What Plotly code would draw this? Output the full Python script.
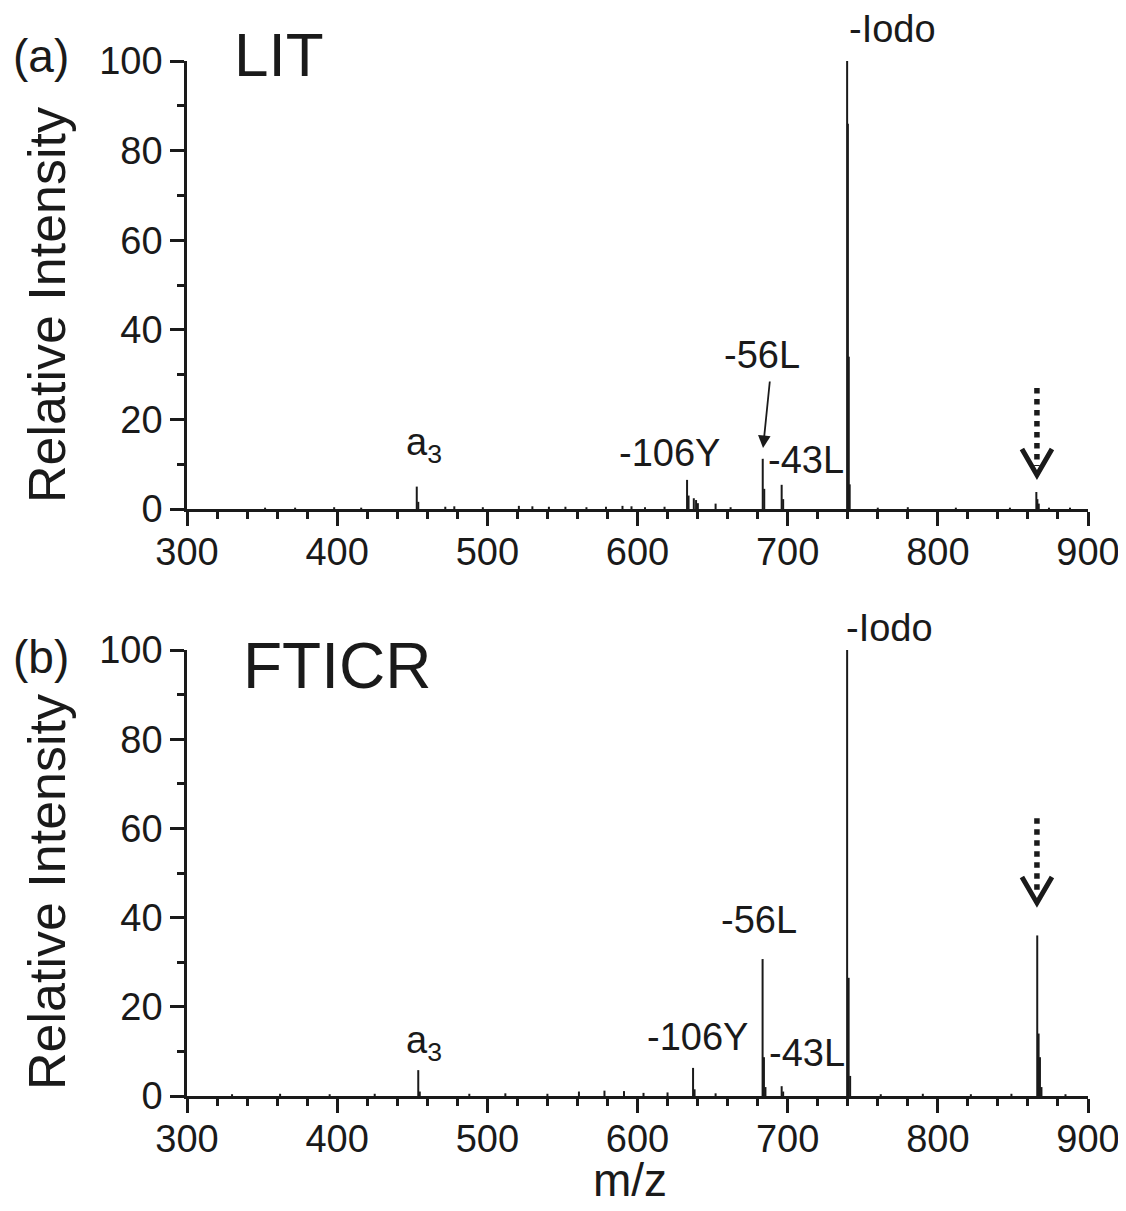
import plotly.graph_objects as go

# page body adds an 8 px margin on the top/left
OFF = 8
W, H = 1126 - OFF, 1211 - OFF

# ---------------- data ----------------
# (a) LIT spectrum: m/z and relative intensity of the sticks
lit_mz = [352, 372, 398, 416, 453.0, 454.0, 472, 478, 497, 521, 530, 541, 552, 566,
          579, 590, 596, 605, 618, 633.0, 634.0, 637.5, 639.0, 640.2, 652.0, 662,
          683.4, 684.4, 696.0, 697.0, 739.6, 740.1, 740.7, 741.3, 760, 780, 812,
          848, 865.6, 866.3, 867.2, 874, 888]
lit_int = [0.3, 0.3, 0.4, 0.3, 5.0, 1.6, 0.5, 0.6, 0.4, 0.7, 0.6, 0.5, 0.5, 0.4,
           0.5, 0.7, 0.6, 0.4, 0.5, 6.5, 3.0, 2.4, 2.0, 1.3, 1.2, 0.4,
           11.2, 4.5, 5.4, 2.2, 100, 86, 34, 5.5, 0.3, 0.4, 0.3,
           0.3, 3.8, 2.2, 1.2, 0.3, 0.3]

# (b) FTICR spectrum
ft_mz = [330, 362, 395, 425, 454.0, 455.0, 488, 512, 540, 561, 578, 591, 604, 620,
         637.0, 638.0, 652, 683.3, 684.2, 685.2, 696.0, 697.0, 739.6, 740.6, 741.6,
         762, 790, 822, 849, 866.2, 867.1, 868.0, 869.0, 885]
ft_int = [0.4, 0.5, 0.4, 0.5, 5.8, 1.0, 0.5, 0.6, 0.5, 1.0, 1.2, 1.1, 0.7, 0.8,
          6.3, 1.5, 0.6, 30.7, 8.7, 2.0, 2.2, 1.0, 100, 26.5, 4.5,
          0.4, 0.5, 0.4, 0.5, 36.0, 14.0, 8.7, 2.0, 0.4]

x_ticks = [300, 400, 500, 600, 700, 800, 900]
y_ticks = [0, 20, 40, 60, 80, 100]

panel_letters = ["(a)", "(b)"]
panel_names = ["LIT", "FTICR"]

# peak labels: text, m/z of the label centre, intensity of the label centre
lit_labels = [("a<sub>3</sub>", 458, 14.3), ("-106Y", 621.5, 12.5),
              ("-56L", 683, 34.4), ("-43L", 712, 10.9), ("-Iodo", 770, 107.1)]
ft_labels = [("a<sub>3</sub>", 458, 11.9), ("-106Y", 640, 13.2),
             ("-56L", 681, 39.5), ("-43L", 713, 9.6), ("-Iodo", 768, 104.9)]

# dotted marker arrows (m/z, tail intensity, tip intensity)
lit_marker = (866, 27.0, 7.6)
ft_marker = (866, 62.3, 43.3)

# solid pointer to the -56L peak in (a): tail (m/z, I) and tip (m/z, I)
lit_pointer = ((688.2, 28.8), (683.6, 13.6))

FONT = "Liberation Sans, Arial, sans-serif"
INK = "#1a1a1a"
Y_MAX = 100

def px(x):
    return (x - OFF) / W

def py(y):
    return 1 - (y - OFF) / H

def sticks(mz, inten):
    xs, ys = [], []
    for m, i in zip(mz, inten):
        xs += [m, m, None]
        ys += [0, i, None]
    return xs, ys

fig = go.Figure()

xa, ya = sticks(lit_mz, lit_int)
fig.add_trace(go.Scatter(x=xa, y=ya, mode="lines", xaxis="x", yaxis="y",
                         line=dict(color=INK, width=2), hoverinfo="skip",
                         showlegend=False))
xb, yb = sticks(ft_mz, ft_int)
fig.add_trace(go.Scatter(x=xb, y=yb, mode="lines", xaxis="x2", yaxis="y2",
                         line=dict(color=INK, width=2), hoverinfo="skip",
                         showlegend=False))

xdom = [px(187), px(1088)]
ydom_a = [py(509), py(61)]
ydom_b = [py(1096), py(650)]

def xaxis_cfg(anchor):
    return dict(domain=xdom, anchor=anchor, range=[300, 900], tickvals=x_ticks,
                automargin=False, ticklabeloverflow="allow", ticklabelstandoff=-6,
                showline=True, linecolor=INK, linewidth=2.5, mirror=False,
                ticks="outside", ticklen=14, tickwidth=2.5, tickcolor=INK,
                minor=dict(dtick=20, tick0=300, ticks="outside", ticklen=7,
                           tickwidth=2.5, tickcolor=INK),
                showgrid=False, zeroline=False,
                tickfont=dict(family=FONT, size=38, color=INK))

def yaxis_cfg(anchor, dom):
    return dict(domain=dom, anchor=anchor, range=[0, Y_MAX], tickvals=y_ticks,
                automargin=False, ticklabeloverflow="allow",
                showline=True, linecolor=INK, linewidth=2.5,
                ticks="outside", ticklen=14, tickwidth=2.5, tickcolor=INK,
                minor=dict(dtick=10, tick0=0, ticks="outside", ticklen=7,
                           tickwidth=2.5, tickcolor=INK),
                showgrid=False, zeroline=False,
                tickfont=dict(family=FONT, size=38, color=INK))

fig.update_layout(
    width=W, height=H,
    margin=dict(l=0, r=0, t=0, b=0, pad=0, autoexpand=False),
    paper_bgcolor="white", plot_bgcolor="white",
    xaxis=xaxis_cfg("y"), yaxis=yaxis_cfg("x", ydom_a),
    xaxis2=xaxis_cfg("y2"), yaxis2=yaxis_cfg("x2", ydom_b),
    showlegend=False,
)

ann = []

def paper_text(text, x, y, size, angle=0):
    ann.append(dict(text=text, x=px(x), y=py(y), xref="paper", yref="paper",
                    xanchor="center", yanchor="middle", textangle=angle,
                    showarrow=False, font=dict(family=FONT, size=size, color=INK)))

# panel letters and names
paper_text(panel_letters[0], 41, 56, 46)
paper_text(panel_letters[1], 41, 657, 46)
paper_text(panel_names[0], 279, 54, 62)
paper_text(panel_names[1], 337, 666, 64)
# y titles
paper_text("Relative Intensity", 47, 305, 52, -90)
paper_text("Relative Intensity", 47, 892, 52, -90)
# x title
paper_text("m/z", 630, 1180, 46)

# peak labels (y in axis-domain units so labels above the range still show)
for labels, xr, yr in [(lit_labels, "x", "y domain"), (ft_labels, "x2", "y2 domain")]:
    for (t, m, i) in labels:
        ann.append(dict(text=t, x=m, y=i / Y_MAX, xref=xr, yref=yr, showarrow=False,
                        xanchor="center", yanchor="middle",
                        font=dict(family=FONT, size=38, color=INK)))

# pointer arrow to -56L in (a)
(tx, ty), (hx, hy) = lit_pointer
ann.append(dict(text="", x=hx, y=hy, xref="x", yref="y", ax=tx, ay=ty,
                axref="x", ayref="y", showarrow=True, arrowhead=2, arrowsize=1.4,
                arrowwidth=1.8, arrowcolor=INK, standoff=0))

fig.update_layout(annotations=ann)

# dotted arrows with V heads
shapes = []
for (m, tail, tip), xr, yr in [(lit_marker, "x", "y"), (ft_marker, "x2", "y2")]:
    head_h = 5.8
    shapes.append(dict(type="line", xref=xr, yref=yr, x0=m, x1=m, y0=tail, y1=tip + 2,
                       line=dict(color=INK, width=5.5, dash="dot")))
    shapes.append(dict(type="path", xref=xr, yref=yr,
                       path=f"M {m-10},{tip+head_h} L {m},{tip} L {m+10},{tip+head_h}",
                       line=dict(color=INK, width=5)))
fig.update_layout(shapes=shapes)

fig.write_html("out.html")
